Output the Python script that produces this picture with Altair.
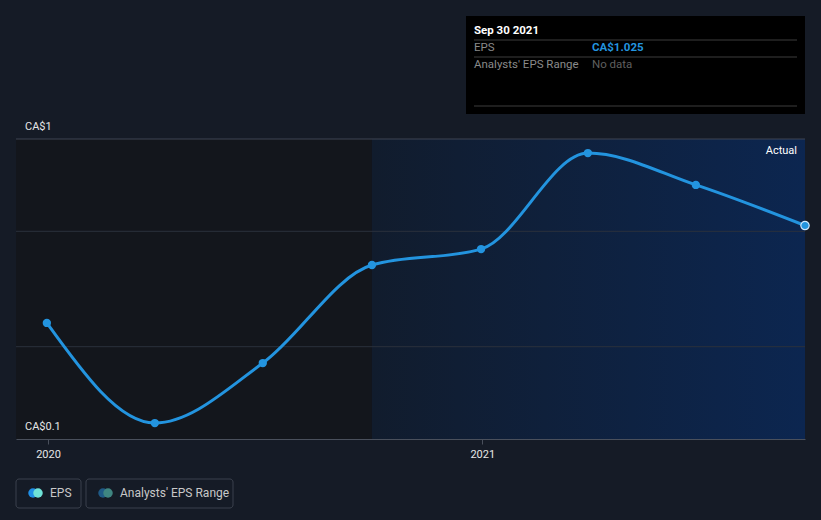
import altair as alt
import pandas as pd

# ---- data ----
dates = ["2019-12-31", "2020-03-31", "2020-06-30", "2020-09-30",
         "2020-12-31", "2021-03-31", "2021-06-30", "2021-09-30"]
eps = [0.603, 0.169, 0.429, 0.854, 0.923, 1.339, 1.201, 1.025]
gridlines = [0.5, 1.0]
x_ticks = ["2020", "2021"]

df = pd.DataFrame({"date": dates, "eps": eps})
last = df.tail(1)
one = pd.DataFrame({"a": [0]})

BG = "#151b26"
FONT = "Roboto"
LINE = "#2394df"

xdom = [alt.DateTime(year=2019, month=12, date=5, utc=True),
        alt.DateTime(year=2021, month=9, date=30, utc=True)]
xscale = alt.Scale(type="utc", domain=xdom, nice=False)
yscale = alt.Scale(domain=[0.1, 1.4], zero=False, nice=False)

W, H = 789, 300

xaxis = alt.Axis(
    values=[alt.DateTime(year=int(t), month=1, date=1, utc=True) for t in x_ticks],
    format="%Y", formatType="utc",
    labelColor="#e6e6e6", labelFont=FONT, labelFontSize=11, labelPadding=4,
    tickColor="#4a505c", tickSize=5, domainColor="#4a505c", domainWidth=1,
    grid=False, title=None,
)

# shaded regions
regions = pd.DataFrame({
    "start": ["2019-12-05", "2020-09-30"],
    "end": ["2020-09-30", "2021-09-30"],
    "kind": ["past", "actual"],
})
past_rect = alt.Chart(regions.iloc[[0]]).mark_rect(color="#13161c").encode(
    x=alt.X("start:T", scale=xscale, axis=xaxis),
    x2="end:T",
    y=alt.value(0), y2=alt.value(H),
)
actual_rect = alt.Chart(regions.iloc[[1]]).mark_rect(
    fill=alt.Gradient(gradient="linear", x1=0, x2=1, y1=0, y2=0,
                      stops=[alt.GradientStop(color="#111c2d", offset=0),
                             alt.GradientStop(color="#0c2650", offset=1)])
).encode(
    x=alt.X("start:T", scale=xscale, axis=xaxis),
    x2="end:T",
    y=alt.value(0), y2=alt.value(H),
)

grid = alt.Chart(pd.DataFrame({"v": gridlines})).mark_rule(
    color="#2b313c", strokeWidth=1).encode(
    y=alt.Y("v:Q", scale=yscale, axis=None),
    x=alt.value(0), x2=alt.value(W),
)
top_rule = alt.Chart(one).mark_rule(color="#3f4552", strokeWidth=1).encode(
    y=alt.value(0), x=alt.value(0), x2=alt.value(W))

line = alt.Chart(df).mark_line(color=LINE, strokeWidth=3, interpolate="monotone").encode(
    x=alt.X("date:T", scale=xscale, axis=xaxis),
    y=alt.Y("eps:Q", scale=yscale, axis=None),
)
pts = alt.Chart(df).mark_circle(color=LINE, size=70, opacity=1).encode(
    x=alt.X("date:T", scale=xscale, axis=xaxis),
    y=alt.Y("eps:Q", scale=yscale, axis=None),
)
last_pt = alt.Chart(last).mark_point(filled=True, fill=LINE, stroke="#cfe6fb",
                                     strokeWidth=1.2, size=70, opacity=1).encode(
    x=alt.X("date:T", scale=xscale, axis=xaxis),
    y=alt.Y("eps:Q", scale=yscale, axis=None),
)

def txt(text, x, y, color="#e6e6e6", size=11, weight="normal", align="left"):
    return alt.Chart(one).mark_text(
        text=text, color=color, fontSize=size, font=FONT, fontWeight=weight,
        align=align, baseline="middle").encode(x=alt.value(x), y=alt.value(y))

def hline(x1, x2, y, color="#3d3d3d"):
    return alt.Chart(one).mark_rule(color=color, strokeWidth=1).encode(
        x=alt.value(x1), x2=alt.value(x2), y=alt.value(y))

OX, OY = 16, 139  # plot origin in page pixels

# y labels
ylab1 = txt("CA$1", 25 - OX, 127 - OY)
ylab2 = txt("CA$0.1", 25 - OX, 427 - OY)
actual_lbl = txt("Actual", 797 - OX, 151 - OY, color="#ffffff", align="right")

# tooltip box
tip_box = alt.Chart(one).mark_rect(color="#000000").encode(
    x=alt.value(466 - OX), x2=alt.value(805 - OX),
    y=alt.value(16 - OY), y2=alt.value(114 - OY))
tip = [
    tip_box,
    txt("Sep 30 2021", 474 - OX, 31 - OY, color="#ffffff", weight="bold", size=11.5),
    hline(474 - OX, 797 - OX, 40 - OY),
    txt("EPS", 474 - OX, 48 - OY, color="#8a8a8a", size=11.5),
    txt("CA$1.025", 592 - OX, 48 - OY, color=LINE, weight="bold", size=11.5),
    hline(474 - OX, 797 - OX, 57 - OY),
    txt("Analysts' EPS Range", 474 - OX, 65 - OY, color="#8a8a8a", size=11.5),
    txt("No data", 592 - OX, 65 - OY, color="#5f5f5f", size=11.5),
    hline(474 - OX, 797 - OX, 106 - OY),
]

# legend
def box(x1, x2):
    return alt.Chart(one).mark_rect(fillOpacity=0, stroke="#3b414d", strokeWidth=1,
                                    cornerRadius=3).encode(
        x=alt.value(x1 - OX), x2=alt.value(x2 - OX),
        y=alt.value(479 - OY), y2=alt.value(508 - OY))

def dot(x, color):
    return alt.Chart(one).mark_circle(color=color, size=90, opacity=1).encode(
        x=alt.value(x - OX), y=alt.value(493 - OY))

legend = [
    box(16, 81), dot(33, "#1f8fe6"), dot(38, "#6fe3d8"),
    txt("EPS", 50 - OX, 493 - OY, color="#c8c8c8", size=12),
    box(86, 233), dot(103, "#1f5a86"), dot(108, "#3f8681"),
    txt("Analysts' EPS Range", 120 - OX, 493 - OY, color="#c8c8c8", size=12),
]

chart = alt.layer(
    past_rect, actual_rect, grid, top_rule, line, pts, last_pt,
    ylab1, ylab2, actual_lbl, *tip, *legend
).properties(
    width=W, height=H, background=BG,
    padding={"left": OX, "top": OY, "right": 821 - OX - W, "bottom": 520 - OY - H},
    autosize=alt.AutoSizeParams(type="none"),
).configure_view(stroke=None)

chart.save("out.html", embed_options={"renderer": "svg", "actions": False})
